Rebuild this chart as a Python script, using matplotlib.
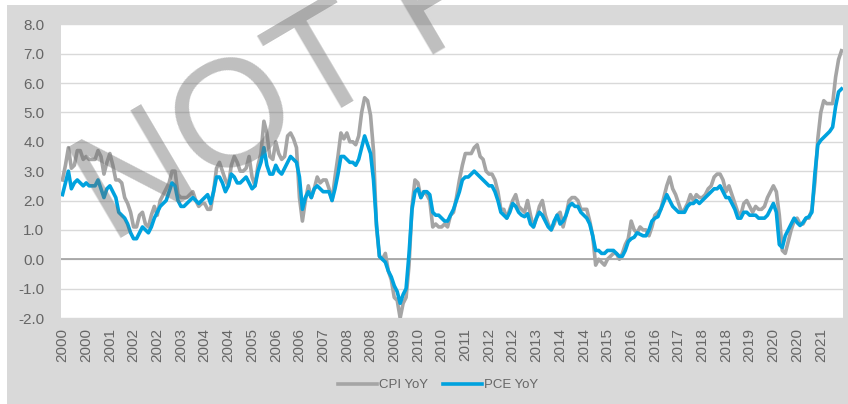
import numpy as np
import matplotlib
matplotlib.use("Agg")
import matplotlib.pyplot as plt
from matplotlib.patches import Rectangle

# Monthly YoY inflation, Jan 2000 - Dec 2021
cpi_yoy = [
    2.7, 3.2, 3.8, 3.1, 3.2, 3.7, 3.7, 3.4, 3.5, 3.4, 3.4, 3.4,   # 2000
    3.7, 3.5, 2.9, 3.3, 3.6, 3.2, 2.7, 2.7, 2.6, 2.1, 1.9, 1.6,   # 2001
    1.1, 1.1, 1.5, 1.6, 1.2, 1.1, 1.5, 1.8, 1.5, 2.0, 2.2, 2.4,   # 2002
    2.6, 3.0, 3.0, 2.2, 2.1, 2.1, 2.1, 2.2, 2.3, 2.0, 1.8, 1.9,   # 2003
    1.9, 1.7, 1.7, 2.3, 3.1, 3.3, 3.0, 2.7, 2.5, 3.2, 3.5, 3.3,   # 2004
    3.0, 3.0, 3.1, 3.5, 2.8, 2.5, 3.2, 3.6, 4.7, 4.3, 3.5, 3.4,   # 2005
    4.0, 3.6, 3.4, 3.5, 4.2, 4.3, 4.1, 3.8, 2.1, 1.3, 2.0, 2.5,   # 2006
    2.1, 2.4, 2.8, 2.6, 2.7, 2.7, 2.4, 2.0, 2.8, 3.5, 4.3, 4.1,   # 2007
    4.3, 4.0, 4.0, 3.9, 4.2, 5.0, 5.5, 5.4, 4.9, 3.7, 1.1, 0.1,   # 2008
    0.0, 0.2, -0.4, -0.7, -1.3, -1.4, -2.0, -1.5, -1.3, -0.2, 1.8, 2.7,  # 2009
    2.6, 2.1, 2.3, 2.2, 2.0, 1.1, 1.2, 1.1, 1.1, 1.2, 1.1, 1.5,   # 2010
    1.6, 2.1, 2.7, 3.2, 3.6, 3.6, 3.6, 3.8, 3.9, 3.5, 3.4, 3.0,   # 2011
    2.9, 2.9, 2.7, 2.3, 1.7, 1.7, 1.4, 1.7, 2.0, 2.2, 1.8, 1.7,   # 2012
    1.6, 2.0, 1.5, 1.1, 1.4, 1.8, 2.0, 1.5, 1.2, 1.0, 1.2, 1.5,   # 2013
    1.6, 1.1, 1.5, 2.0, 2.1, 2.1, 2.0, 1.7, 1.7, 1.7, 1.3, 0.8,   # 2014
    -0.2, 0.0, -0.1, -0.2, 0.0, 0.1, 0.2, 0.2, 0.0, 0.2, 0.5, 0.7,  # 2015
    1.3, 1.0, 0.9, 1.1, 1.0, 1.0, 0.8, 1.1, 1.5, 1.6, 1.7, 2.1,   # 2016
    2.5, 2.8, 2.4, 2.2, 1.9, 1.6, 1.7, 1.9, 2.2, 2.0, 2.2, 2.1,   # 2017
    2.1, 2.2, 2.4, 2.5, 2.8, 2.9, 2.9, 2.7, 2.3, 2.5, 2.2, 1.9,   # 2018
    1.6, 1.5, 1.9, 2.0, 1.8, 1.6, 1.8, 1.7, 1.7, 1.8, 2.1, 2.3,   # 2019
    2.5, 2.3, 1.5, 0.3, 0.2, 0.6, 1.0, 1.3, 1.4, 1.2, 1.2, 1.4,   # 2020
    1.4, 1.7, 2.6, 4.1, 5.0, 5.4, 5.3, 5.3, 5.3, 6.2, 6.8, 7.1,   # 2021
]

pce_yoy = [
    2.2, 2.6, 3.0, 2.4, 2.6, 2.7, 2.6, 2.5, 2.6, 2.5, 2.5, 2.5,   # 2000
    2.7, 2.4, 2.1, 2.4, 2.5, 2.3, 2.1, 1.6, 1.5, 1.4, 1.2, 0.9,   # 2001
    0.7, 0.7, 0.9, 1.1, 1.0, 0.9, 1.1, 1.4, 1.6, 1.8, 1.9, 2.0,   # 2002
    2.3, 2.6, 2.5, 2.0, 1.8, 1.8, 1.9, 2.0, 2.1, 2.0, 1.9, 2.0,   # 2003
    2.1, 2.2, 1.9, 2.3, 2.8, 2.8, 2.6, 2.3, 2.5, 2.9, 2.8, 2.6,   # 2004
    2.6, 2.7, 2.8, 2.6, 2.4, 2.5, 3.0, 3.3, 3.8, 3.2, 2.9, 2.9,   # 2005
    3.2, 3.0, 2.9, 3.1, 3.3, 3.5, 3.4, 3.3, 2.8, 1.7, 2.1, 2.3,   # 2006
    2.1, 2.4, 2.5, 2.4, 2.3, 2.3, 2.3, 2.0, 2.4, 2.9, 3.5, 3.5,   # 2007
    3.4, 3.3, 3.3, 3.2, 3.4, 3.8, 4.2, 3.9, 3.6, 2.7, 1.2, 0.1,   # 2008
    0.0, -0.1, -0.4, -0.6, -0.9, -1.1, -1.5, -1.2, -1.0, 0.2, 1.7, 2.3,  # 2009
    2.4, 2.1, 2.3, 2.3, 2.2, 1.6, 1.5, 1.5, 1.4, 1.3, 1.3, 1.5,   # 2010
    1.7, 2.0, 2.3, 2.7, 2.8, 2.8, 2.9, 3.0, 2.9, 2.8, 2.7, 2.6,   # 2011
    2.5, 2.5, 2.3, 2.0, 1.6, 1.5, 1.4, 1.6, 1.9, 1.8, 1.6, 1.5,   # 2012
    1.45, 1.55, 1.2, 1.1, 1.4, 1.6, 1.5, 1.3, 1.1, 1.0, 1.3, 1.5,  # 2013
    1.2, 1.3, 1.5, 1.8, 1.9, 1.8, 1.8, 1.6, 1.5, 1.4, 1.2, 0.8,   # 2014
    0.3, 0.3, 0.2, 0.2, 0.3, 0.3, 0.3, 0.2, 0.1, 0.1, 0.3, 0.6,   # 2015
    0.7, 0.75, 0.9, 0.85, 0.8, 0.8, 1.0, 1.3, 1.4, 1.45, 1.7, 1.95,  # 2016
    2.2, 2.0, 1.8, 1.7, 1.6, 1.6, 1.6, 1.8, 1.9, 1.9, 2.0, 1.9,   # 2017
    2.0, 2.1, 2.2, 2.3, 2.4, 2.4, 2.5, 2.3, 2.1, 2.1, 1.9, 1.7,   # 2018
    1.4, 1.4, 1.6, 1.6, 1.5, 1.5, 1.5, 1.4, 1.4, 1.4, 1.5, 1.7,   # 2019
    1.9, 1.6, 0.5, 0.4, 0.8, 1.0, 1.2, 1.4, 1.25, 1.15, 1.25, 1.4,  # 2020
    1.45, 1.6, 2.9, 3.9, 4.05, 4.15, 4.25, 4.35, 4.5, 5.2, 5.7, 5.8,  # 2021
]

tick_labels = ["2000", "2000", "2001", "2002", "2002", "2003", "2004", "2004",
               "2005", "2006", "2006", "2007", "2008", "2008", "2009", "2010",
               "2010", "2011", "2012", "2012", "2013", "2014", "2014", "2015",
               "2016", "2016", "2017", "2018", "2018", "2019", "2020", "2020",
               "2021"]
y_ticks = [-2.0, -1.0, 0.0, 1.0, 2.0, 3.0, 4.0, 5.0, 6.0, 7.0, 8.0]

plt.rcParams['font.family'] = ['Liberation Sans', 'DejaVu Sans']

W, H = 848, 404
fig = plt.figure(figsize=(W / 100, H / 100), dpi=100)
fig.patch.set_facecolor('white')
fig.add_artist(Rectangle((7 / W, 0), (W - 7) / W, (H - 5) / H,
                         transform=fig.transFigure, facecolor='#d9d9d9',
                         edgecolor='none', zorder=0))

left, right, top, bottom = 61, 843, 24.3, 318
ax = fig.add_axes([left / W, 1 - bottom / H, (right - left) / W, (bottom - top) / H])
ax.set_facecolor('white')

x = np.arange(len(cpi_yoy))
ax.plot(x, cpi_yoy, color='#a5a5a5', lw=2.6, label='CPI YoY',
        solid_joinstyle='round', zorder=3)
ax.plot(x, pce_yoy, color='#00a2de', lw=2.6, label='PCE YoY',
        solid_joinstyle='round', zorder=4)

ax.set_xlim(-0.5, len(cpi_yoy) - 0.5)
ax.set_ylim(-2, 8)
ax.set_yticks(y_ticks)
ax.set_yticklabels([f"{v:.1f}" for v in y_ticks])
ax.set_xticks(np.arange(0, len(cpi_yoy), 8))
ax.set_xticklabels(tick_labels, rotation=90)
ax.grid(axis='y', color='#d9d9d9', lw=1.0, zorder=1)
ax.axhline(0, color='#a0a0a0', lw=1.2, zorder=2)
for s in ax.spines.values():
    s.set_visible(False)
ax.tick_params(length=0, colors='#666666', labelsize=11)
ax.tick_params(axis='y', pad=12)
ax.tick_params(axis='x', pad=7)

fig.legend(loc='center', bbox_to_anchor=(438 / W, 1 - 385 / H), ncol=2,
           frameon=False, handlelength=2.9, handletextpad=0.15,
           columnspacing=1.2, fontsize=9.5, labelcolor='#666666')

fig.text(110 / W, 1 - 244 / H, 'NOT FOR DISTRIBUTION', rotation=30.5,
         rotation_mode='anchor', ha='left', va='baseline', fontsize=110,
         color='#707070', alpha=0.45, zorder=10)

fig.savefig('out.png', dpi=100)
